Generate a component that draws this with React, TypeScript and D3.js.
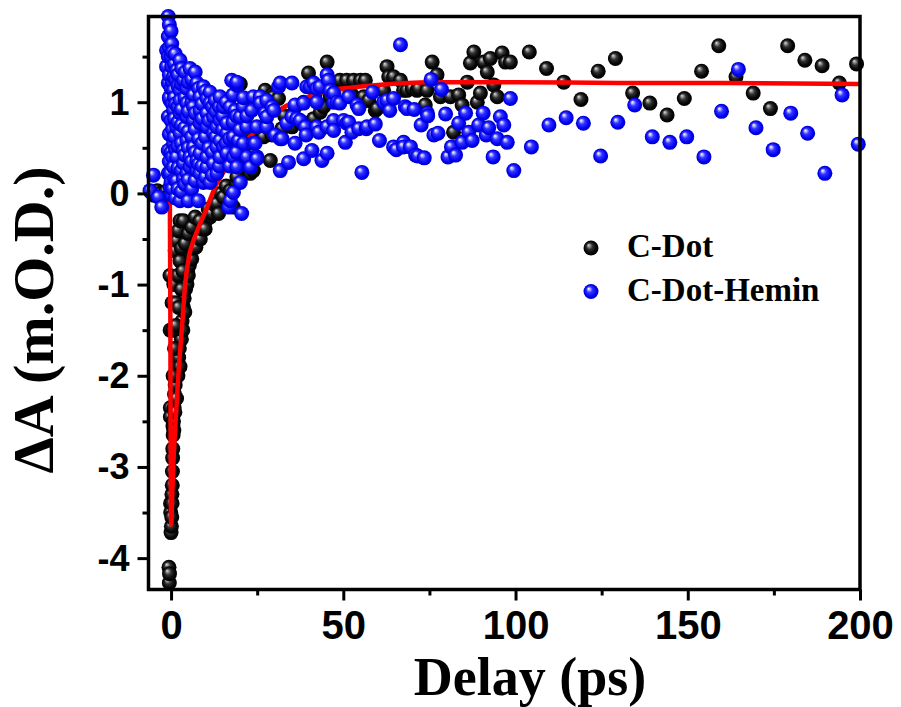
import * as d3 from "d3";
import { useEffect, useRef } from "react";

// ---- axis ticks ----
const xTicks = [0, 50, 100, 150, 200];
const xMinor = [25, 75, 125, 175];
const yTicks = [-4, -3, -2, -1, 0, 1];
const yMinor = [-3.5, -2.5, -1.5, -0.5, 0.5, 1.5];
const seriesNames = ["C-Dot", "C-Dot-Hemin"];

// ---- C-Dot (delay ps, ΔA mOD) ----
const cdot: [number, number][] = [
  [-6, 0.02], [-5, -0.02], [-4, 0.03], [-3, 0.0], [-2, -0.03], [-1.5, 0.02], [-1, -0.04],
  [-0.6, -4.1], [-0.5, -4.27], [-0.45, -4.17], [-0.3, -0.9], [-0.25, -1.5],
  [-0.2, -2.35], [-0.2, -2.45], [-0.15, -3.4], [-0.1, -3.5],
  [0.0, -3.72], [0.1, -3.65], [0.2, -3.55], [0.25, -3.3], [0.3, -3.4], [0.35, -3.2],
  [0.4, -3.05], [0.45, -2.9], [0.5, -2.8], [0.55, -2.55], [0.6, -2.65], [0.7, -2.5],
  [0.8, -2.6], [0.9, -2.35], [1.0, -2.2], [1.1, -2.4], [1.2, -2.1], [1.4, -2.0],
  [1.6, -2.25], [1.8, -1.9], [2.0, -2.0], [2.2, -1.8], [2.4, -1.7], [2.6, -1.9],
  [2.8, -1.55], [3.0, -1.6], [3.2, -1.4], [3.4, -1.5], [3.6, -1.25], [3.8, -1.15],
  [4.0, -1.3], [4.2, -1.05], [4.4, -0.95], [4.6, -1.0], [4.8, -0.85], [5.0, -0.9],
  [5.3, -0.79], [5.6, -0.7], [6.0, -0.72], [6.4, -0.6], [6.8, -0.55], [7.2, -0.59],
  [7.6, -0.48], [8.0, -0.45], [8.5, -0.5], [9.0, -0.39], [9.5, -0.35], [10.0, -0.3],
  [10.8, -0.17], [11.3, -0.26], [11.8, -0.22], [12.5, -0.12], [13.3, -0.11], [13.8, -0.22],
  [0.3, -1.2], [0.5, -1.5], [0.6, -2.0], [0.8, -1.0], [1.0, -1.7], [1.2, -0.63],
  [1.5, -1.2], [1.7, -0.52], [2.0, -0.9], [2.1, -0.41], [2.6, -0.3], [2.6, -0.74],
  [3.0, -0.6], [3.6, -0.3], [4.1, -0.55], [5.0, -0.44], [6.0, -0.37], [7.0, -0.26],
  [8.4, -0.3], [9.9, -0.39], [1.4, -1.45], [2.2, -1.25], [3.0, -1.05], [3.4, -0.85],
  [14.5, 0.0], [15.2, -0.04], [16.0, 0.08], [17.2, 0.03], [18.1, -0.15], [19.0, 0.11],
  [19.1, 0.18], [20.0, 0.3], [20.1, 1.2], [21.0, 0.45], [21.0, 0.92], [22.0, 0.67],
  [23.0, 0.22], [24.0, 0.55], [23.9, 0.25], [24.9, 0.69], [26.8, 0.62], [27.3, 1.13],
  [28.8, 0.36], [29.3, 0.64], [29.3, 1.08], [29.7, 1.06], [31.2, 1.04], [32.2, 0.71],
  [33.0, 0.85], [35.1, 0.73], [36.0, 0.95], [37.5, 0.78], [38.5, 1.0], [39.9, 1.32],
  [39.9, 0.77], [41.4, 0.82], [41.9, 1.1], [43.3, 0.89], [44.3, 0.95], [45.3, 1.44],
  [46.2, 1.06], [47.5, 1.15], [49.0, 1.24], [50.0, 1.08], [51.0, 1.24], [52.5, 1.08],
  [53.0, 1.24], [55.0, 1.24], [55.4, 1.0], [56.4, 1.24], [55.9, 1.06], [57.4, 1.02],
  [59.3, 0.91], [59.8, 0.93], [61.7, 1.13], [62.7, 1.39], [63.2, 1.28], [64.6, 1.28],
  [66.6, 1.24], [67.5, 1.13], [68.5, 1.13], [70.0, 1.15], [71.4, 1.13], [71.9, 1.15],
  [73.8, 0.97], [74.3, 1.13], [75.8, 1.44], [77.2, 1.3], [78.2, 1.06], [81.1, 1.06],
  [82.0, 0.67], [83.5, 1.08], [84.5, 0.97], [86.0, 1.22], [86.9, 1.43], [87.9, 1.55],
  [88.9, 1.0], [89.8, 1.1], [90.8, 1.44], [91.8, 1.33], [92.7, 1.48], [93.7, 1.19],
  [94.7, 1.06], [96.1, 1.54], [97.1, 1.44], [98.5, 1.44],
  [104, 1.55], [109, 1.37], [114, 1.22], [119, 1.03], [124, 1.34], [129, 1.48],
  [134, 1.1], [139, 0.99], [144, 0.86], [149, 1.04], [154, 1.34], [159, 1.62],
  [164, 1.28], [169, 1.1], [174, 0.93], [179, 1.62], [184, 1.46], [189, 1.4],
  [194, 1.21], [199, 1.42],
];

// ---- C-Dot-Hemin ----
const hemin: [number, number][] = [
  [-6.1, 0.03], [-5.1, 0.2], [-3.7, -0.04], [-2.7, -0.15],
  [-1.3, 1.57], [-1.3, 1.39], [-0.8, 1.94], [-0.8, 1.72], [-0.8, 1.5], [-0.8, 1.21],
  [-0.8, 0.84], [-0.8, 0.47], [-0.8, 0.22], [-0.3, 1.02], [-0.3, 0.07], [-0.3, 0.22],
  [-0.5, 1.85], [-0.5, 1.6], [-0.5, 1.3], [-0.5, 1.05], [-0.5, 0.65], [-0.5, 0.35],
  [0.0, 1.78], [0.0, 1.5], [0.0, 1.15], [0.0, 0.8], [0.0, 0.45], [0.0, 0.12],
  [0.2, 1.39], [0.2, 1.64], [0.2, -0.02], [0.4, 1.55], [0.4, 1.22], [0.4, 0.98],
  [0.4, 0.7], [0.4, 0.4], [0.4, 0.05], [0.7, 0.91], [0.7, 1.13], [0.7, 0.55],
  [0.7, 0.29], [0.7, 1.28], [1.0, 1.42], [1.0, 1.05], [1.0, 0.82], [1.0, 0.62],
  [1.0, 0.15], [1.2, 1.53], [1.3, 1.25], [1.3, 0.98], [1.3, 0.48], [1.3, -0.05],
  [1.6, 1.35], [1.6, 0.14], [1.6, 0.4], [1.6, 0.73], [2.0, 1.3], [2.0, 1.18],
  [2.0, 0.95], [2.0, 0.78], [2.0, 0.52], [2.0, 0.28], [2.0, 0.05], [2.6, 1.13],
  [2.6, 0.88], [2.6, 1.02], [2.6, 0.66], [2.6, -0.08], [2.6, 1.46], [3.0, 1.2],
  [3.0, 0.92], [3.0, 0.75], [3.0, 0.55], [3.0, 0.25], [3.0, 0.02], [3.1, 1.37],
  [3.6, 0.16], [3.6, 0.33], [3.6, 1.24], [3.6, 0.47], [4.0, 1.05], [4.0, 0.72],
  [4.0, 0.42], [4.0, 0.1], [4.1, 1.33], [4.6, 1.15], [4.6, 0.22], [4.6, 0.84],
  [4.6, 0.99], [4.6, 0.58], [5.0, -0.08], [5.0, 1.22], [5.0, 0.9], [5.0, 0.68],
  [5.0, 0.5], [5.0, 0.15], [5.5, 1.37], [5.5, 0.29], [5.5, 0.4], [6.0, 1.25],
  [6.0, 1.0], [6.0, 0.62], [6.0, 0.35], [6.0, 0.05], [6.5, 1.08], [6.5, 0.8],
  [6.5, 0.95], [6.5, 0.51], [7.0, 1.33], [7.0, 0.14], [7.0, 0.88], [7.0, 0.7],
  [7.0, 0.45], [7.5, 0.25], [7.5, 1.21], [7.5, 0.36], [7.9, -0.08], [8.0, 1.15],
  [8.0, 0.6], [8.0, 0.32], [8.4, 1.06], [8.4, 0.22], [8.4, 0.77], [8.4, 0.91],
  [8.4, 0.44], [9.0, 0.98], [9.0, 0.82], [9.0, 0.55], [9.0, 0.3], [9.4, 0.12],
  [9.4, 1.17], [10.0, 1.12], [10.0, 0.62], [10.0, 0.18], [10.4, 1.04], [10.4, 0.29],
  [10.4, 0.73], [10.4, 0.88], [10.4, 0.4], [11.0, 0.8], [11.0, 0.5], [11.3, 0.12],
  [11.3, 1.11], [11.3, 0.99], [12.0, 0.95], [12.0, 0.45], [12.0, 0.2], [12.3, 0.33],
  [12.3, 0.66], [12.3, 0.84], [12.8, 1.02], [13.0, 0.9], [13.0, 0.62], [13.3, 0.22],
  [13.3, 0.51], [13.3, 0.73], [14.0, 0.95], [14.0, 0.3], [14.2, 0.4], [14.2, 0.58],
  [14.2, 0.8], [14.2, 1.06], [15.0, 0.7], [15.0, 0.85], [15.2, 0.95], [15.2, 0.51],
  [16.0, 0.55], [16.0, 1.0], [16.2, 0.44], [16.2, 0.66], [16.2, 0.77], [16.7, -0.15],
  [17.0, 0.6], [17.0, 0.3], [17.2, 0.95], [17.2, -0.08], [17.6, 1.24], [18.0, 0.78],
  [18.0, 1.08], [18.1, 0.62], [18.1, 0.4], [18.1, 0.01], [18.6, 0.91], [19.0, 0.45],
  [19.0, 0.85], [19.1, 1.19], [19.1, 0.29], [19.1, 1.22], [19.6, 0.58], [20.0, 0.7],
  [20.1, 0.12], [20.1, 0.84], [20.5, -0.22], [21.0, 0.95], [21.0, 0.55], [21.0, 1.05],
  [22.0, 0.73], [22.0, 0.4], [22.0, 0.85], [23.0, 0.29], [23.4, 0.91], [23.9, 0.55],
  [23.9, 1.06], [24.4, 0.55], [24.9, 0.73], [24.9, 0.4], [24.9, 0.38], [25.9, 1.06],
  [25.9, 0.99], [27.3, 0.88], [27.8, 1.02], [27.8, 0.73], [27.8, 0.84], [29.3, 0.95],
  [29.8, 0.91], [30.2, 0.64], [31.2, 1.17], [31.7, 1.21], [31.7, 0.6], [31.7, 0.25],
  [32.2, 0.6], [33.6, 0.77], [34.1, 0.34], [35.1, 1.21], [35.1, 0.84], [36.0, 0.97],
  [36.0, 0.55], [36.5, 0.82], [37.5, 0.8], [38.5, 0.99], [38.5, 0.38], [39.0, 0.73],
  [39.2, 0.64], [39.4, 1.17], [40.4, 1.17], [40.9, 0.47], [41.4, 1.21], [42.3, 1.15],
  [42.3, 1.0], [42.3, 0.73], [42.9, 0.67], [43.3, 1.17], [43.8, 0.36], [45.3, 1.3],
  [45.3, 0.73], [45.3, 0.44], [45.7, 1.24], [46.2, 1.13], [47.2, 1.0], [47.2, 0.8],
  [47.2, 0.69], [47.2, 1.1], [48.2, 1.0], [49.0, 0.99], [50.1, 0.8], [50.6, 0.56],
  [51.0, 0.77], [51.6, 1.06], [51.6, 0.78], [52.5, 0.67], [54.0, 0.97], [54.5, 0.93],
  [54.5, 0.71], [55.4, 0.23], [56.7, 0.71], [56.9, 0.73], [58.5, 1.11], [59.3, 0.76],
  [60.5, 0.58], [61.7, 1.0], [62.7, 1.02], [63.5, 0.91], [64.6, 1.04], [64.6, 0.51],
  [65.4, 0.48], [66.6, 1.63], [67.5, 0.56], [67.5, 0.51], [68.0, 0.95], [68.5, 0.93],
  [69.5, 0.51], [70.6, 0.92], [71.0, 0.42], [71.6, 0.41], [72.6, 0.75], [73.5, 0.39],
  [74.4, 0.88], [74.5, 0.85], [75.5, 1.25], [76.3, 0.64], [77.5, 0.66], [78.5, 1.14],
  [79.7, 0.87], [80.4, 0.4], [81.4, 0.51], [82.6, 0.42], [83.5, 0.77], [84.5, 0.56],
  [85.5, 0.88], [86.4, 0.67], [87.4, 0.58], [89.3, 0.75], [90.6, 0.88], [91.5, 0.64],
  [92.2, 0.72], [93.5, 0.4], [94.7, 0.6], [95.6, 0.84], [96.6, 0.75], [97.6, 0.56],
  [98.5, 1.04],
  [99.5, 0.25], [104.6, 0.51], [109.7, 0.75], [114.7, 0.83], [119.7, 0.77], [124.7, 0.41],
  [129.7, 0.78], [134.6, 0.97], [139.7, 0.62], [144.8, 0.56], [149.7, 0.62], [154.7, 0.4],
  [159.8, 0.9], [164.7, 1.36], [169.8, 0.72], [174.8, 0.48], [179.9, 0.88], [184.8, 0.66],
  [189.8, 0.22], [194.8, 1.08], [199.5, 0.54],
];

// ---- fitted curve ----
const fit: [number, number][] = [
  [-0.6, 0], [-0.35, -0.1], [-0.22, -1.2], [-0.12, -2.6], [-0.04, -3.4], [0.05, -3.63],
  [0.3, -3.35], [0.67, -2.96], [1.16, -2.6], [2.1, -2.0], [3.1, -1.5], [4.1, -1.0],
  [5.5, -0.64], [6.5, -0.52], [7.9, -0.38], [10.5, -0.15], [12.8, 0.07], [15, 0.22],
  [17.5, 0.36], [20, 0.48], [22, 0.58], [25, 0.71], [28, 0.82], [31.7, 0.92], [35, 0.99],
  [40, 1.06], [46, 1.13], [52, 1.16], [60, 1.19], [75, 1.22], [100, 1.22], [130, 1.21],
  [160, 1.21], [200, 1.2],
];

export default function App() {
  const ref = useRef<SVGSVGElement>(null);

  useEffect(() => {
    const width = 901;
    const height = 707;
    const left = 148.5, right = 860, top = 16.5, bottom = 589.5;

    const svg = d3.select(ref.current).attr("viewBox", `0 0 ${width} ${height}`);
    svg.selectAll("*").remove();

    // ---- 尺度 ----
    const x = d3.scaleLinear().domain([-6.55, 200]).range([left, right]);
    const y = d3.scaleLinear().domain([-4.344, 1.94]).range([bottom, top]);

    // ---- sphere gradients ----
    const defs = svg.append("defs");
    const ball = (id: string, stops: [number, string][]) => {
      const g = defs.append("radialGradient").attr("id", id)
        .attr("cx", "50%").attr("cy", "50%").attr("r", "50%")
        .attr("fx", "33%").attr("fy", "30%");
      stops.forEach(([o, c]) => g.append("stop").attr("offset", `${o}%`).attr("stop-color", c));
    };
    ball("ballBlack", [[0, "#e6e6e6"], [14, "#a0a0a0"], [42, "#303030"], [75, "#080808"], [100, "#000"]]);
    ball("ballBlue", [[0, "#ffffff"], [14, "#c4c4ff"], [40, "#3434ff"], [80, "#0000f4"], [100, "#0000c0"]]);

    const r = 7.5;

    // ---- C-Dot points ----
    svg.append("g").selectAll("circle").data(cdot).join("circle")
      .attr("cx", d => x(d[0])).attr("cy", d => y(d[1])).attr("r", r)
      .attr("fill", "url(#ballBlack)");

    // ---- fit line ----
    const line = d3.line<[number, number]>()
      .x(d => x(d[0])).y(d => y(d[1]))
      .curve(d3.curveMonotoneX);
    svg.append("path").datum(fit).attr("d", line)
      .attr("fill", "none").attr("stroke", "#ff0000").attr("stroke-width", 4.5)
      .attr("stroke-linejoin", "round");

    // ---- C-Dot-Hemin points ----
    svg.append("g").selectAll("circle").data(hemin).join("circle")
      .attr("cx", d => x(d[0])).attr("cy", d => y(d[1])).attr("r", r)
      .attr("fill", "url(#ballBlue)");

    // ---- axes ----
    const tickFont = "'Liberation Sans', Arial, sans-serif";
    const xAxis = svg.append("g").attr("transform", `translate(0,${bottom})`)
      .call(d3.axisBottom(x).tickValues(xTicks).tickSize(11).tickFormat(d3.format("d")));
    svg.append("g").attr("transform", `translate(0,${bottom})`)
      .call(d3.axisBottom(x).tickValues(xMinor).tickSize(6).tickFormat(() => ""));
    const yAxis = svg.append("g").attr("transform", `translate(${left},0)`)
      .call(d3.axisLeft(y).tickValues(yTicks).tickSize(11).tickFormat(d3.format("d")));
    svg.append("g").attr("transform", `translate(${left},0)`)
      .call(d3.axisLeft(y).tickValues(yMinor).tickSize(6).tickFormat(() => ""));

    svg.selectAll(".domain").remove();
    svg.selectAll(".tick line").attr("stroke", "#000").attr("stroke-width", 3);

    xAxis.selectAll("text")
      .attr("y", 49).attr("dy", null)
      .attr("font-family", tickFont).attr("font-weight", 700).attr("font-size", 40)
      .attr("fill", "#000");
    yAxis.selectAll("text")
      .attr("x", -19).attr("dy", null).attr("y", 12)
      .attr("font-family", tickFont).attr("font-weight", 700).attr("font-size", 36)
      .attr("fill", "#000")
      .text(d => String(d).replace("−", "-"));

    // ---- frame ----
    svg.append("rect")
      .attr("x", left).attr("y", top)
      .attr("width", right - left).attr("height", bottom - top)
      .attr("fill", "none").attr("stroke", "#000").attr("stroke-width", 3.5);

    // ---- titles ----
    const serif = "'Liberation Serif', 'Times New Roman', serif";
    svg.append("text")
      .attr("transform", `translate(53,320) rotate(-90)`)
      .attr("text-anchor", "middle")
      .attr("font-family", serif).attr("font-weight", 700).attr("font-size", 58)
      .text("ΔA (m.O.D.)");
    svg.append("text")
      .attr("x", 530).attr("y", 695)
      .attr("text-anchor", "middle")
      .attr("font-family", serif).attr("font-weight", 700).attr("font-size", 54)
      .text("Delay (ps)");

    // ---- legend ----
    const leg = svg.append("g");
    const legFill = ["url(#ballBlack)", "url(#ballBlue)"];
    seriesNames.forEach((name, i) => {
      const cy = 248 + i * 43.5;
      leg.append("circle").attr("cx", 591).attr("cy", cy).attr("r", r).attr("fill", legFill[i]);
      leg.append("text")
        .attr("x", 627).attr("y", cy + 9)
        .attr("font-family", serif).attr("font-weight", 700).attr("font-size", 33)
        .text(name);
    });
  }, []);

  return (
    <svg
      ref={ref}
      width={901}
      height={707}
      style={{ position: "absolute", left: 0, top: 0, background: "#fff" }}
    />
  );
}
